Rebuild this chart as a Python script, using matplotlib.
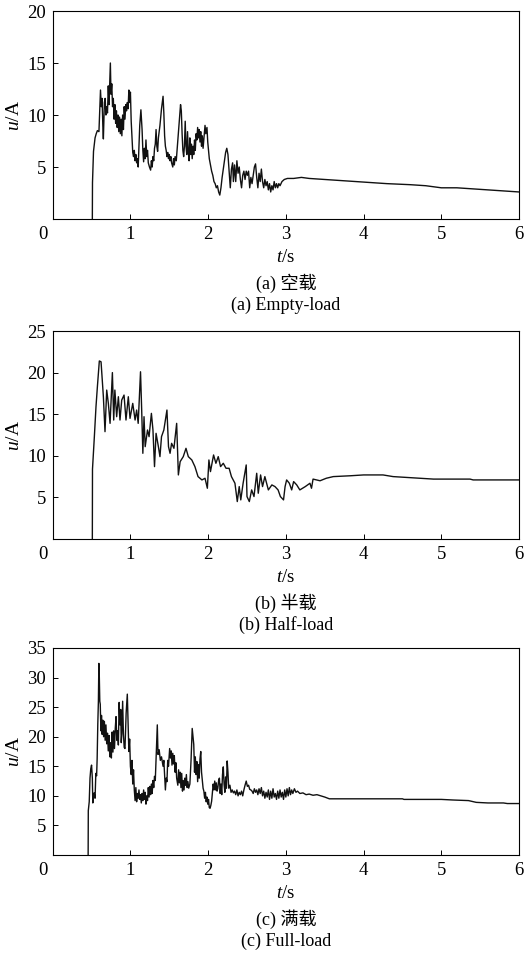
import numpy as np
import matplotlib
matplotlib.use("Agg")
import matplotlib.pyplot as plt
from matplotlib.transforms import ScaledTranslation

plt.rcParams['font.family'] = ['Liberation Serif', 'Noto Sans CJK SC']
plt.rcParams['mathtext.fontset'] = 'custom'
plt.rcParams['mathtext.rm'] = 'Liberation Serif'
plt.rcParams['mathtext.it'] = 'Liberation Serif:italic'

# --- (a) empty load ---
t_empty = [0.510, 0.512, 0.525, 0.545, 0.560, 0.575, 0.595, 0.605, 0.615, 0.625,
           0.635, 0.645, 0.652, 0.665, 0.675, 0.685, 0.695, 0.705, 0.715, 0.725,
           0.735, 0.742, 0.750, 0.760, 0.770, 0.780, 0.790, 0.800, 0.810, 0.820,
           0.830, 0.840, 0.850, 0.860, 0.870, 0.880, 0.890, 0.900, 0.910, 0.920,
           0.930, 0.940, 0.950, 0.960, 0.970, 0.980, 0.990, 1.000, 1.010, 1.020,
           1.030, 1.040, 1.050, 1.060, 1.070, 1.080, 1.090, 1.100, 1.110, 1.120,
           1.135, 1.150, 1.160, 1.170, 1.180, 1.190, 1.200, 1.210, 1.220, 1.230,
           1.245, 1.260, 1.270, 1.280, 1.290, 1.300, 1.310, 1.320, 1.330, 1.340,
           1.350, 1.360, 1.380, 1.400, 1.420, 1.430, 1.440, 1.450, 1.460, 1.470,
           1.480, 1.490, 1.500, 1.510, 1.520, 1.530, 1.545, 1.555, 1.565, 1.575,
           1.590, 1.600, 1.615, 1.630, 1.645, 1.655, 1.665, 1.675, 1.685, 1.695,
           1.705, 1.715, 1.725, 1.735, 1.745, 1.755, 1.765, 1.775, 1.785, 1.795,
           1.805, 1.815, 1.825, 1.835, 1.845, 1.855, 1.865, 1.875, 1.885, 1.895,
           1.905, 1.915, 1.925, 1.935, 1.950, 1.960, 1.970, 1.985, 1.995, 2.005,
           2.015, 2.030, 2.045, 2.060, 2.075, 2.090, 2.105, 2.120, 2.135, 2.150,
           2.165, 2.180, 2.195, 2.210, 2.225, 2.240, 2.255, 2.270, 2.285, 2.300,
           2.315, 2.325, 2.340, 2.355, 2.370, 2.385, 2.400, 2.415, 2.430, 2.445,
           2.460, 2.475, 2.490, 2.505, 2.520, 2.535, 2.550, 2.565, 2.580, 2.595,
           2.610, 2.625, 2.640, 2.655, 2.670, 2.685, 2.700, 2.715, 2.730, 2.745,
           2.760, 2.775, 2.790, 2.805, 2.820, 2.835, 2.850, 2.865, 2.880, 2.895,
           2.910, 2.925, 2.950, 2.980, 3.020, 3.100, 3.200, 3.300, 3.500, 3.700,
           3.900, 4.100, 4.300, 4.600, 4.800, 5.000, 5.200, 5.400, 5.600, 5.800,
           6.000]
u_empty = [0.0, 3.5, 6.5, 7.8, 8.2, 8.5, 8.4, 10.5, 12.4, 10.8,
           11.6, 9.0, 7.7, 11.2, 11.6, 10.0, 10.8, 10.2, 12.8, 11.0,
           13.4, 15.0, 12.0, 13.0, 10.8, 11.6, 9.6, 11.0, 9.2, 10.4,
           8.8, 10.0, 8.4, 9.8, 8.2, 9.6, 8.0, 10.0, 8.6, 10.8,
           9.6, 11.0, 10.4, 11.2, 10.6, 12.4, 11.2, 12.2, 9.4, 8.0,
           6.4, 6.0, 6.6, 5.6, 6.2, 5.4, 5.8, 5.0, 7.0, 9.0,
           10.5, 8.6, 6.6, 5.5, 6.8, 5.8, 7.6, 6.0, 6.6, 5.4,
           5.0, 4.7, 5.6, 5.0, 6.0, 5.6, 6.8, 7.2, 8.6, 7.0,
           6.5, 7.8, 9.0, 10.6, 11.8, 10.2, 8.0, 7.0, 6.6, 6.0,
           6.4, 5.8, 6.2, 5.6, 6.0, 5.4, 5.0, 5.8, 5.2, 6.0,
           5.6, 6.6, 8.0, 9.6, 11.0, 10.4, 8.2, 6.6, 6.0, 7.0,
           9.4, 7.0, 6.2, 8.4, 6.4, 5.6, 7.8, 6.2, 7.2, 5.8,
           7.0, 6.2, 7.6, 6.6, 8.2, 7.6, 8.8, 7.8, 8.6, 7.4,
           8.4, 7.0, 8.0, 6.8, 8.2, 9.0, 8.2, 8.8, 7.4, 6.6,
           5.8, 5.2, 4.6, 4.2, 3.6, 3.4, 3.0, 3.2, 2.6, 2.3,
           3.0, 4.0, 4.8, 5.6, 6.4, 6.8, 6.2, 4.6, 3.0, 4.8,
           5.4, 3.6, 5.2, 3.6, 5.6, 4.4, 5.0, 3.8, 3.0, 4.2,
           4.6, 3.8, 4.6, 4.2, 4.6, 3.0, 4.0, 3.4, 4.2, 5.0,
           5.3, 4.0, 3.0, 4.4, 3.6, 4.8, 3.6, 3.0, 3.8, 3.2,
           3.6, 2.8, 3.4, 2.6, 3.2, 2.8, 3.6, 3.0, 3.4, 3.0,
           3.4, 3.2, 3.6, 3.8, 3.9, 3.9, 4.0, 3.9, 3.8, 3.7,
           3.6, 3.5, 3.4, 3.3, 3.2, 3.0, 3.0, 2.9, 2.8, 2.7,
           2.6]

# --- (b) half load ---
t_half = [0.510, 0.512, 0.536, 0.557, 0.575, 0.600, 0.622, 0.635, 0.652, 0.673,
          0.695, 0.716, 0.738, 0.768, 0.785, 0.800, 0.823, 0.845, 0.866, 0.888,
          0.918, 0.943, 0.973, 0.995, 1.030, 1.060, 1.080, 1.100, 1.130, 1.145,
          1.160, 1.175, 1.190, 1.220, 1.240, 1.270, 1.290, 1.310, 1.330, 1.360,
          1.380, 1.400, 1.430, 1.470, 1.490, 1.510, 1.530, 1.560, 1.595, 1.617,
          1.640, 1.680, 1.715, 1.745, 1.790, 1.830, 1.870, 1.920, 1.960, 1.990,
          2.010, 2.030, 2.070, 2.100, 2.130, 2.160, 2.195, 2.230, 2.270, 2.300,
          2.345, 2.375, 2.400, 2.420, 2.450, 2.490, 2.500, 2.530, 2.560, 2.590,
          2.625, 2.645, 2.675, 2.700, 2.730, 2.775, 2.820, 2.860, 2.900, 2.930,
          2.970, 2.990, 3.010, 3.045, 3.075, 3.100, 3.140, 3.180, 3.250, 3.310,
          3.330, 3.350, 3.440, 3.520, 3.610, 3.830, 4.000, 4.250, 4.380, 4.900,
          5.370, 5.410, 6.000]
u_half = [0.0, 8.4, 12.3, 15.9, 18.3, 21.4, 21.3, 19.5, 17.1, 12.9,
          17.9, 16.3, 13.9, 20.0, 14.3, 17.9, 14.7, 17.1, 14.3, 16.7,
          17.3, 14.3, 17.1, 14.5, 16.3, 14.3, 15.5, 13.9, 20.1, 15.5,
          10.3, 14.7, 11.1, 13.1, 12.3, 15.1, 13.1, 8.7, 12.7, 11.1,
          9.9, 12.3, 13.1, 15.5, 11.1, 10.3, 11.5, 10.9, 13.9, 7.7,
          9.3, 9.9, 10.9, 9.9, 9.5, 8.7, 7.5, 7.1, 7.3, 6.1,
          9.5, 8.1, 10.1, 9.1, 9.9, 8.7, 9.1, 8.5, 8.5, 7.5,
          6.7, 4.5, 6.3, 4.7, 6.7, 8.9, 5.1, 4.5, 5.9, 5.1,
          7.9, 5.5, 7.7, 6.3, 7.5, 5.9, 6.5, 6.3, 5.9, 5.1,
          4.7, 6.3, 7.1, 6.7, 5.9, 6.9, 6.5, 5.9, 6.3, 6.7,
          6.1, 7.2, 7.0, 7.3, 7.5, 7.6, 7.7, 7.7, 7.5, 7.2,
          7.2, 7.1, 7.1]

# --- (c) full load ---
t_full = [0.456, 0.458, 0.470, 0.480, 0.490, 0.500, 0.510, 0.516, 0.525, 0.533,
          0.545, 0.555, 0.565, 0.572, 0.580, 0.588, 0.594, 0.600, 0.606, 0.612,
          0.620, 0.628, 0.636, 0.645, 0.655, 0.665, 0.675, 0.685, 0.695, 0.705,
          0.715, 0.725, 0.735, 0.745, 0.755, 0.765, 0.775, 0.785, 0.795, 0.805,
          0.815, 0.825, 0.835, 0.845, 0.855, 0.865, 0.875, 0.882, 0.890, 0.900,
          0.910, 0.920, 0.930, 0.945, 0.960, 0.970, 0.980, 0.990, 1.000, 1.010,
          1.020, 1.030, 1.040, 1.050, 1.060, 1.070, 1.080, 1.090, 1.100, 1.110,
          1.120, 1.130, 1.140, 1.150, 1.160, 1.170, 1.180, 1.190, 1.200, 1.210,
          1.220, 1.230, 1.240, 1.250, 1.260, 1.270, 1.280, 1.290, 1.300, 1.310,
          1.320, 1.335, 1.346, 1.355, 1.370, 1.385, 1.400, 1.420, 1.430, 1.440,
          1.450, 1.460, 1.470, 1.480, 1.490, 1.505, 1.515, 1.525, 1.535, 1.545,
          1.555, 1.565, 1.575, 1.585, 1.595, 1.610, 1.620, 1.630, 1.640, 1.650,
          1.660, 1.670, 1.680, 1.690, 1.700, 1.710, 1.720, 1.730, 1.740, 1.750,
          1.765, 1.780, 1.795, 1.805, 1.815, 1.825, 1.835, 1.845, 1.855, 1.865,
          1.875, 1.885, 1.895, 1.905, 1.915, 1.925, 1.935, 1.945, 1.955, 1.965,
          1.975, 1.985, 1.995, 2.005, 2.015, 2.025, 2.035, 2.045, 2.055, 2.065,
          2.075, 2.085, 2.095, 2.105, 2.115, 2.125, 2.135, 2.145, 2.155, 2.165,
          2.175, 2.185, 2.195, 2.205, 2.215, 2.225, 2.235, 2.245, 2.255, 2.265,
          2.280, 2.295, 2.310, 2.325, 2.340, 2.355, 2.370, 2.385, 2.400, 2.415,
          2.430, 2.445, 2.460, 2.475, 2.490, 2.505, 2.520, 2.535, 2.550, 2.565,
          2.580, 2.595, 2.610, 2.625, 2.640, 2.655, 2.670, 2.685, 2.700, 2.715,
          2.730, 2.745, 2.760, 2.775, 2.790, 2.805, 2.820, 2.835, 2.850, 2.865,
          2.880, 2.895, 2.910, 2.925, 2.940, 2.955, 2.970, 2.985, 3.000, 3.015,
          3.030, 3.045, 3.060, 3.075, 3.090, 3.110, 3.130, 3.150, 3.180, 3.220,
          3.260, 3.300, 3.350, 3.400, 3.450, 3.500, 3.560, 3.700, 4.000, 4.300,
          4.500, 4.520, 5.000, 5.150, 5.350, 5.450, 5.600, 5.800, 5.850, 6.000]
u_full = [0.0, 7.5, 9.0, 13.0, 14.6, 15.2, 13.0, 8.8, 10.0, 10.5,
          9.6, 13.8, 13.4, 16.3, 22.0, 26.0, 32.4, 30.0, 26.0, 25.5,
          21.0, 23.6, 20.4, 22.8, 20.0, 22.6, 19.4, 22.0, 18.8, 20.6,
          17.6, 20.2, 16.6, 19.0, 16.4, 20.8, 17.4, 21.0, 18.0, 21.4,
          23.4, 19.4, 21.0, 18.6, 25.8, 22.0, 24.6, 19.0, 20.6, 26.0,
          20.4, 18.2, 18.0, 24.0, 27.2, 22.0, 17.5, 19.6, 15.0, 13.6,
          16.0, 12.0, 14.4, 11.0, 9.2, 11.4, 9.0, 10.4, 9.6, 11.0,
          9.4, 10.2, 8.8, 10.4, 9.2, 11.0, 9.4, 10.6, 8.6, 10.0,
          9.2, 11.4, 9.8, 11.6, 10.2, 12.0, 10.4, 12.6, 11.4, 13.3,
          12.6, 18.0, 22.0, 17.0, 17.8, 16.0, 16.6, 15.0, 16.0, 13.6,
          11.0, 13.0, 12.4, 16.0, 15.0, 18.0, 16.4, 17.6, 15.2, 17.2,
          15.4, 16.8, 14.0, 15.6, 13.0, 11.8, 14.4, 12.2, 14.0, 11.4,
          13.8, 10.8, 12.6, 11.0, 13.0, 11.8, 13.6, 11.4, 12.4, 11.3,
          12.0, 16.0, 21.4, 20.0, 18.7, 14.0, 16.6, 13.6, 15.8, 12.4,
          15.3, 13.0, 16.2, 17.5, 14.0, 12.6, 11.3, 10.8, 9.6, 10.6,
          9.0, 9.8, 8.6, 9.4, 8.0, 7.9, 8.4, 9.1, 10.6, 12.0,
          11.0, 12.5, 11.0, 12.2, 10.8, 11.3, 12.6, 13.0, 10.4, 12.0,
          10.2, 13.6, 14.9, 12.0, 10.6, 13.2, 11.3, 15.9, 14.0, 11.3,
          11.8, 10.6, 11.0, 10.5, 10.8, 10.2, 11.0, 10.0, 10.6, 10.2,
          10.8, 10.0, 11.0, 11.8, 12.5, 11.6, 11.8, 11.1, 11.0, 10.8,
          10.4, 11.2, 10.6, 11.0, 10.2, 11.2, 10.4, 11.4, 10.0, 10.8,
          9.6, 10.6, 9.8, 11.0, 9.4, 10.8, 9.6, 11.2, 9.8, 10.4,
          9.4, 10.8, 9.6, 11.0, 9.8, 10.6, 9.4, 11.0, 9.8, 11.2,
          10.0, 11.4, 10.2, 11.0, 10.4, 11.2, 10.6, 10.8, 10.4, 10.5,
          10.2, 10.3, 10.1, 10.2, 10.0, 9.8, 9.5, 9.5, 9.5, 9.5,
          9.5, 9.4, 9.4, 9.3, 9.2, 8.9, 8.8, 8.8, 8.7, 8.7]

panels = [
    (t_empty, u_empty, 20, [5, 10, 15, 20], ['(a) 空载', '(a) Empty-load']),
    (t_half, u_half, 25, [5, 10, 15, 20, 25], ['(b) 半载', '(b) Half-load']),
    (t_full, u_full, 35, [5, 10, 15, 20, 25, 30, 35], ['(c) 满载', '(c) Full-load']),
]

# axes boxes in pixels (top, bottom) for the 532x955 figure
W, H = 532, 955
boxes = [(11, 219), (331, 539), (648, 855)]
left_px, right_px = 52.7, 519

fig = plt.figure(figsize=(W / 100, H / 100), dpi=100)

for (t, u, ymax, yt, caps), (top, bot) in zip(panels, boxes):
    ax = fig.add_axes([left_px / W, 1 - bot / H, (right_px - left_px) / W, (bot - top) / H])
    ax.plot(t, u, color='#111111', lw=1.0)
    ax.set_xlim(0, 6)
    ax.set_ylim(0, ymax)
    ax.set_xticks(range(7))
    ax.set_yticks(yt)
    ax.tick_params(direction='in', length=3.5, width=0.7, labelsize=13.5, pad=5,
                   top=False, right=False)
    for s in ax.spines.values():
        s.set_linewidth(0.8)
    ax.set_xlabel(r'$t$/s', fontsize=13.5, labelpad=4)
    ax.set_ylabel(r'$u$/A', fontsize=14, labelpad=3)
    # the "0" on the x axis sits left of the corner
    lab0 = ax.xaxis.get_major_ticks()[0].label1
    lab0.set_transform(lab0.get_transform() + ScaledTranslation(-0.1, 0, fig.dpi_scale_trans))

    fig.text(286 / W, 1 - (bot + 64) / H, caps[0], ha='center', va='center', fontsize=13)
    fig.text(286 / W, 1 - (bot + 86) / H, caps[1], ha='center', va='center', fontsize=13)

fig.savefig('out.png', dpi=100)
